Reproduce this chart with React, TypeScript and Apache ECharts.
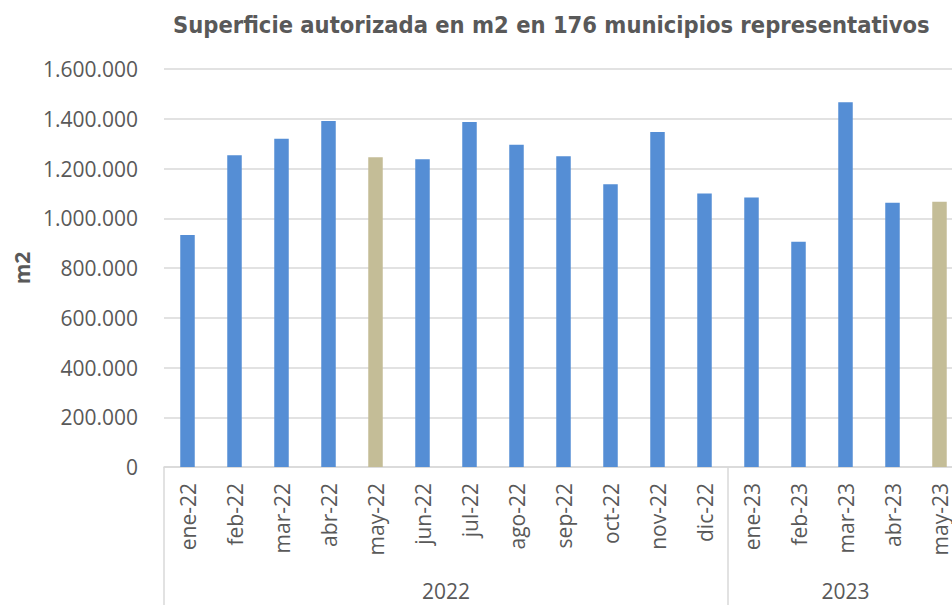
import React, { useEffect, useRef } from "react";
import * as echarts from "echarts";

const titleText = "Superficie autorizada en m2 en 176 municipios representativos";
const categories = [
  "ene-22", "feb-22", "mar-22", "abr-22", "may-22", "jun-22", "jul-22", "ago-22",
  "sep-22", "oct-22", "nov-22", "dic-22", "ene-23", "feb-23", "mar-23", "abr-23", "may-23",
];
const values = [
  933000, 1253000, 1320000, 1391000, 1245000, 1237000, 1387000, 1295000,
  1249000, 1137000, 1347000, 1099000, 1083000, 906000, 1466000, 1062000, 1066000,
];
const highlighted = ["may-22", "may-23"];
const years = ["2022", "2023"];
const yearCounts = [12, 5];
const yTicks = [0, 200000, 400000, 600000, 800000, 1000000, 1200000, 1400000, 1600000];

const BLUE = "#558ED5";
const TAN = "#C4BD97";
const GREY = "#595959";
const LINE = "#D9D9D9";
const FONT = "'Open Sans', 'Liberation Sans', sans-serif";

const fmt = (v: number) => String(v).replace(/\B(?=(\d{3})+(?!\d))/g, ".");

export default function App() {
  const ref = useRef<HTMLDivElement>(null);
  useEffect(() => {
    if (!ref.current) return;
    const chart = echarts.init(ref.current, undefined, { renderer: "svg" });
    const bounds: number[] = [0];
    const centers: number[] = [];
    yearCounts.forEach((c) => {
      const start = bounds[bounds.length - 1];
      centers.push(start + c / 2);
      bounds.push(start + c);
    });
    chart.setOption({
      animation: false,
      backgroundColor: "#ffffff",
      title: {
        text: titleText,
        left: 168,
        top: 8,
        textStyle: {
          fontFamily: "'DejaVu Sans Condensed', 'Liberation Sans', sans-serif",
          fontWeight: "bold",
          fontSize: 23.5,
          color: GREY,
        },
      },
      grid: { left: 164, right: 0, top: 69, height: 398, containLabel: false },
      xAxis: [
        {
          type: "category",
          data: categories,
          boundaryGap: true,
          axisLine: { show: true, lineStyle: { color: LINE, width: 1.5 } },
          axisTick: { show: false },
          axisLabel: {
            rotate: 90,
            margin: 16,
            interval: 0,
            fontSize: 21,
            color: GREY,
            fontFamily: FONT,
          },
          splitLine: { show: false },
        },
        {
          type: "value",
          min: 0,
          max: categories.length,
          position: "bottom",
          axisLine: { show: false },
          splitLine: { show: false },
          axisTick: {
            show: true,
            customValues: bounds,
            length: 140,
            lineStyle: { color: LINE, width: 1.5 },
          },
          axisLabel: {
            show: true,
            customValues: centers,
            margin: 113,
            fontSize: 21,
            color: GREY,
            fontFamily: FONT,
            formatter: (v: number) => {
              const i = centers.indexOf(v);
              return i >= 0 ? years[i] : "";
            },
          },
        },
      ],
      yAxis: {
        type: "value",
        min: yTicks[0],
        max: yTicks[yTicks.length - 1],
        interval: yTicks[1] - yTicks[0],
        name: "m2",
        nameLocation: "middle",
        nameGap: 126,
        nameTextStyle: { fontSize: 21, fontWeight: "bold", color: GREY, fontFamily: FONT },
        axisLine: { show: false },
        axisTick: { show: false },
        axisLabel: { fontSize: 21, color: GREY, margin: 26, fontFamily: FONT, formatter: fmt },
        splitLine: { show: true, lineStyle: { color: LINE, width: 1.5 } },
      },
      series: [
        {
          type: "bar",
          xAxisIndex: 0,
          barWidth: 14.5,
          data: values.map((v, i) => ({
            value: v,
            itemStyle: { color: highlighted.includes(categories[i]) ? TAN : BLUE },
          })),
        },
      ],
    });
    return () => chart.dispose();
  }, []);
  return (
    <div
      style={{ position: "fixed", left: 0, top: 0, width: 952, height: 605, overflow: "hidden", background: "#fff" }}
    >
      <div ref={ref} style={{ width: 963, height: 605 }} />
    </div>
  );
}
